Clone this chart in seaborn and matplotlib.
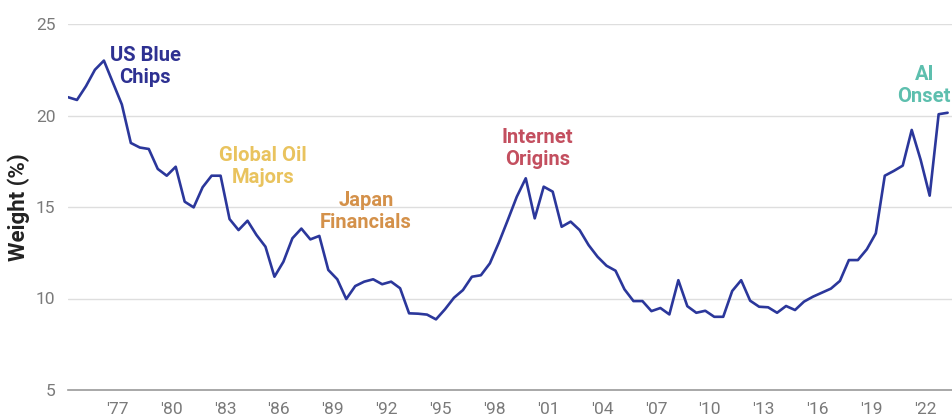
import numpy as np
import pandas as pd
import matplotlib
matplotlib.use("Agg")
import matplotlib.pyplot as plt
import seaborn as sns

# Semi-annual observations starting mid-1974
start_year = 1974.25
weights = [
    21.0, 20.85, 21.6, 22.5, 23.0, 21.8, 20.6, 18.5, 18.25, 18.17,
    17.08, 16.71, 17.2, 15.29, 14.98, 16.08, 16.71, 16.71, 14.34, 13.74,
    14.25, 13.47, 12.83, 11.19, 12.01, 13.29, 13.82, 13.23, 13.42, 11.56,
    11.05, 9.97, 10.68, 10.92, 11.05, 10.78, 10.92, 10.56, 9.19, 9.17,
    9.12, 8.86, 9.41, 10.04, 10.46, 11.19, 11.27, 11.92, 13.05, 14.29,
    15.56, 16.57, 14.38, 16.11, 15.84, 13.92, 14.2, 13.74, 12.92, 12.28,
    11.79, 11.52, 10.5, 9.86, 9.86, 9.31, 9.48, 9.13, 11.0, 9.58,
    9.22, 9.33, 9.0, 9.0, 10.41, 11.0, 9.88, 9.55, 9.52, 9.22,
    9.59, 9.37, 9.83, 10.1, 10.32, 10.54, 10.96, 12.1, 12.1, 12.69,
    13.56, 16.71, 16.97, 17.26, 19.21, 17.57, 15.62, 20.07, 20.15,
]
years = [start_year + 0.5 * k for k in range(len(weights))]

tick_years = [1977, 1980, 1983, 1986, 1989, 1992, 1995, 1998, 2001, 2004,
              2007, 2010, 2013, 2016, 2019, 2022]
tick_labels = ["'77", "'80", "'83", "'86", "'89", "'92", "'95", "'98", "'01",
               "'04", "'07", "'10", "'13", "'16", "'19", "'22"]
y_ticks = [5, 10, 15, 20, 25]

annotations = [
    ("US Blue\nChips", 1978.55, 22.68, "#2e3192"),
    ("Global Oil\nMajors", 1985.1, 17.21, "#e9c35e"),
    ("Japan\nFinancials", 1990.85, 14.73, "#d4914a"),
    ("Internet\nOrigins", 2000.4, 18.17, "#c34f5f"),
    ("AI\nOnset", 2021.95, 21.64, "#5dbfae"),
]

df = pd.DataFrame({"year": years, "weight": weights})

sns.set_theme(style="white")
plt.rcParams["font.family"] = ["Roboto", "DejaVu Sans"]

fig = plt.figure(figsize=(9.53, 4.18), dpi=100)
ax = fig.add_axes([68 / 953, 1 - 390 / 418, 1 - 68 / 953, (390 - 24) / 418])

sns.lineplot(data=df, x="year", y="weight", ax=ax, color="#2b379b",
             linewidth=1.9, zorder=3)

ax.set_xlim(years[0], 2023.55)
ax.set_ylim(5, 25)
ax.set_yticks(y_ticks)
ax.set_yticklabels([str(v) for v in y_ticks])
ax.set_xticks(tick_years)
ax.set_xticklabels(tick_labels)

for v in y_ticks[1:]:
    ax.axhline(v, color="#dedede", linewidth=1.0, zorder=1)

for s in ["top", "right", "left"]:
    ax.spines[s].set_visible(False)
ax.spines["bottom"].set_color("#9a9a9a")
ax.spines["bottom"].set_linewidth(1.2)

ax.tick_params(axis="both", length=0, labelsize=12.5, labelcolor="#7a7a7a")
ax.tick_params(axis="x", pad=9)
ax.tick_params(axis="y", pad=9)

ax.set_xlabel("")
ax.set_ylabel("Weight (%)", fontsize=16, fontweight="bold", color="#222222",
              labelpad=4)

for text, x, y, col in annotations:
    ax.text(x, y, text, ha="center", va="center", fontsize=14.5,
            fontweight="bold", color=col, linespacing=1.2, zorder=4,
            clip_on=False)

fig.savefig("out.png", dpi=100)
